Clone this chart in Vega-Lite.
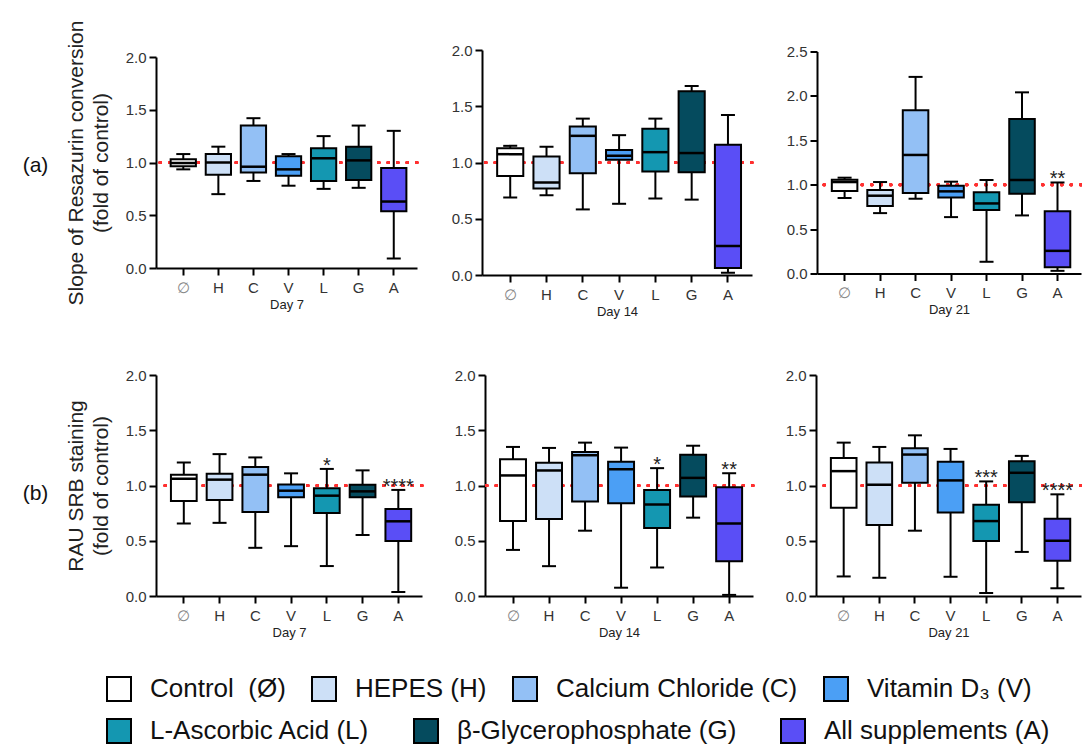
{
  "$schema": "https://vega.github.io/schema/vega-lite/v6.json",
  "padding": {"left": 22, "top": 20, "right": 0, "bottom": 0},
  "background": "white",
  "config": {
    "font": "Liberation Sans",
    "view": {"stroke": null},
    "axis": {"grid": false, "domainColor": "black", "domainWidth": 2, "tickColor": "black", "tickWidth": 2, "tickSize": 7, "labelFontSize": 15, "labelColor": "#333", "titleFontWeight": "normal", "titleColor": "#222"},
    "axisX": {"labelAngle": 0, "titleFontSize": 13, "titlePadding": 3, "labelPadding": 5},
    "axisY": {"titleFontSize": 21, "labelPadding": 3, "titlePadding": 14, "titleLineHeight": 25}
  },
  "datasets": {
    "box": [
      {"p": 1, "g": "∅", "grp": "Control\u00a0 (Ø)", "lo": 0.935, "q1": 0.965, "med": 0.995, "q3": 1.03, "hi": 1.08, "sig": ""},
      {"p": 1, "g": "H", "grp": "HEPES (H)", "lo": 0.70, "q1": 0.885, "med": 1.0, "q3": 1.08, "hi": 1.15, "sig": ""},
      {"p": 1, "g": "C", "grp": "Calcium Chloride (C)", "lo": 0.825, "q1": 0.905, "med": 0.96, "q3": 1.35, "hi": 1.42, "sig": ""},
      {"p": 1, "g": "V", "grp": "Vitamin D₃ (V)", "lo": 0.78, "q1": 0.875, "med": 0.935, "q3": 1.06, "hi": 1.08, "sig": ""},
      {"p": 1, "g": "L", "grp": "L-Ascorbic Acid (L)", "lo": 0.75, "q1": 0.825, "med": 1.04, "q3": 1.135, "hi": 1.25, "sig": ""},
      {"p": 1, "g": "G", "grp": "β-Glycerophosphate (G)", "lo": 0.76, "q1": 0.835, "med": 1.02, "q3": 1.15, "hi": 1.35, "sig": ""},
      {"p": 1, "g": "A", "grp": "All supplements (A)", "lo": 0.09, "q1": 0.537, "med": 0.63, "q3": 0.948, "hi": 1.30, "sig": ""},
      {"p": 2, "g": "∅", "grp": "Control\u00a0 (Ø)", "lo": 0.689, "q1": 0.879, "med": 1.074, "q3": 1.127, "hi": 1.148, "sig": ""},
      {"p": 2, "g": "H", "grp": "HEPES (H)", "lo": 0.71, "q1": 0.769, "med": 0.822, "q3": 1.053, "hi": 1.139, "sig": ""},
      {"p": 2, "g": "C", "grp": "Calcium Chloride (C)", "lo": 0.583, "q1": 0.905, "med": 1.237, "q3": 1.32, "hi": 1.39, "sig": ""},
      {"p": 2, "g": "V", "grp": "Vitamin D₃ (V)", "lo": 0.633, "q1": 1.024, "med": 1.059, "q3": 1.112, "hi": 1.243, "sig": ""},
      {"p": 2, "g": "L", "grp": "L-Ascorbic Acid (L)", "lo": 0.68, "q1": 0.92, "med": 1.092, "q3": 1.30, "hi": 1.39, "sig": ""},
      {"p": 2, "g": "G", "grp": "β-Glycerophosphate (G)", "lo": 0.67, "q1": 0.913, "med": 1.084, "q3": 1.633, "hi": 1.68, "sig": ""},
      {"p": 2, "g": "A", "grp": "All supplements (A)", "lo": 0.02, "q1": 0.062, "med": 0.258, "q3": 1.158, "hi": 1.422, "sig": ""},
      {"p": 3, "g": "∅", "grp": "Control\u00a0 (Ø)", "lo": 0.85, "q1": 0.929, "med": 1.03, "q3": 1.056, "hi": 1.079, "sig": ""},
      {"p": 3, "g": "H", "grp": "HEPES (H)", "lo": 0.68, "q1": 0.76, "med": 0.876, "q3": 0.94, "hi": 1.03, "sig": ""},
      {"p": 3, "g": "C", "grp": "Calcium Chloride (C)", "lo": 0.842, "q1": 0.906, "med": 1.335, "q3": 1.838, "hi": 2.214, "sig": ""},
      {"p": 3, "g": "V", "grp": "Vitamin D₃ (V)", "lo": 0.635, "q1": 0.857, "med": 0.925, "q3": 0.989, "hi": 1.034, "sig": ""},
      {"p": 3, "g": "L", "grp": "L-Ascorbic Acid (L)", "lo": 0.132, "q1": 0.714, "med": 0.789, "q3": 0.914, "hi": 1.053, "sig": ""},
      {"p": 3, "g": "G", "grp": "β-Glycerophosphate (G)", "lo": 0.654, "q1": 0.898, "med": 1.053, "q3": 1.74, "hi": 2.04, "sig": ""},
      {"p": 3, "g": "A", "grp": "All supplements (A)", "lo": 0.03, "q1": 0.07, "med": 0.255, "q3": 0.70, "hi": 1.025, "sig": "**"},
      {"p": 4, "g": "∅", "grp": "Control\u00a0 (Ø)", "lo": 0.656, "q1": 0.86, "med": 1.062, "q3": 1.098, "hi": 1.209, "sig": ""},
      {"p": 4, "g": "H", "grp": "HEPES (H)", "lo": 0.662, "q1": 0.869, "med": 1.053, "q3": 1.107, "hi": 1.284, "sig": ""},
      {"p": 4, "g": "C", "grp": "Calcium Chloride (C)", "lo": 0.436, "q1": 0.761, "med": 1.098, "q3": 1.167, "hi": 1.254, "sig": ""},
      {"p": 4, "g": "V", "grp": "Vitamin D₃ (V)", "lo": 0.451, "q1": 0.893, "med": 0.953, "q3": 1.01, "hi": 1.11, "sig": ""},
      {"p": 4, "g": "L", "grp": "L-Ascorbic Acid (L)", "lo": 0.271, "q1": 0.752, "med": 0.908, "q3": 0.974, "hi": 1.15, "sig": "*"},
      {"p": 4, "g": "G", "grp": "β-Glycerophosphate (G)", "lo": 0.552, "q1": 0.893, "med": 0.947, "q3": 1.007, "hi": 1.137, "sig": ""},
      {"p": 4, "g": "A", "grp": "All supplements (A)", "lo": 0.036, "q1": 0.497, "med": 0.676, "q3": 0.787, "hi": 0.96, "sig": "****"},
      {"p": 5, "g": "∅", "grp": "Control\u00a0 (Ø)", "lo": 0.417, "q1": 0.678, "med": 1.091, "q3": 1.238, "hi": 1.349, "sig": ""},
      {"p": 5, "g": "H", "grp": "HEPES (H)", "lo": 0.27, "q1": 0.696, "med": 1.136, "q3": 1.205, "hi": 1.34, "sig": ""},
      {"p": 5, "g": "C", "grp": "Calcium Chloride (C)", "lo": 0.591, "q1": 0.855, "med": 1.274, "q3": 1.304, "hi": 1.388, "sig": ""},
      {"p": 5, "g": "V", "grp": "Vitamin D₃ (V)", "lo": 0.075, "q1": 0.84, "med": 1.148, "q3": 1.214, "hi": 1.343, "sig": ""},
      {"p": 5, "g": "L", "grp": "L-Ascorbic Acid (L)", "lo": 0.258, "q1": 0.615, "med": 0.828, "q3": 0.96, "hi": 1.157, "sig": "*"},
      {"p": 5, "g": "G", "grp": "β-Glycerophosphate (G)", "lo": 0.709, "q1": 0.90, "med": 1.069, "q3": 1.279, "hi": 1.36, "sig": ""},
      {"p": 5, "g": "A", "grp": "All supplements (A)", "lo": 0.01, "q1": 0.315, "med": 0.655, "q3": 0.985, "hi": 1.111, "sig": "**"},
      {"p": 6, "g": "∅", "grp": "Control\u00a0 (Ø)", "lo": 0.177, "q1": 0.798, "med": 1.13, "q3": 1.25, "hi": 1.388, "sig": ""},
      {"p": 6, "g": "H", "grp": "HEPES (H)", "lo": 0.165, "q1": 0.642, "med": 1.007, "q3": 1.208, "hi": 1.349, "sig": ""},
      {"p": 6, "g": "C", "grp": "Calcium Chloride (C)", "lo": 0.591, "q1": 1.025, "med": 1.28, "q3": 1.337, "hi": 1.454, "sig": ""},
      {"p": 6, "g": "V", "grp": "Vitamin D₃ (V)", "lo": 0.174, "q1": 0.756, "med": 1.046, "q3": 1.214, "hi": 1.331, "sig": ""},
      {"p": 6, "g": "L", "grp": "L-Ascorbic Acid (L)", "lo": 0.027, "q1": 0.498, "med": 0.678, "q3": 0.825, "hi": 1.037, "sig": "***"},
      {"p": 6, "g": "G", "grp": "β-Glycerophosphate (G)", "lo": 0.399, "q1": 0.849, "med": 1.115, "q3": 1.22, "hi": 1.268, "sig": ""},
      {"p": 6, "g": "A", "grp": "All supplements (A)", "lo": 0.07, "q1": 0.32, "med": 0.50, "q3": 0.70, "hi": 0.92, "sig": "****"}
    ]
  },
  "vconcat": [
    {
      "title": {"text": "(a)", "orient": "left", "angle": 0, "anchor": "middle", "fontSize": 21, "fontWeight": "normal", "offset": 4, "dy": -14, "color": "#111"},
      "spacing": 32,
      "center": true,
      "hconcat": [
        {
          "width": 261, "height": 211,
          "data": {"name": "box"},
          "transform": [{"filter": "datum.p == 1"}],
          "layer": [
            {"mark": {"type": "rule", "color": "#ff3030", "strokeDash": [0.5, 9], "strokeWidth": 3, "strokeCap": "round"}, "encoding": {"y": {"datum": 1, "type": "quantitative"}}},
            {"mark": {"type": "rule", "color": "black", "strokeWidth": 2}, "encoding": {
              "x": {"field": "g", "type": "nominal", "sort": ["∅", "H", "C", "V", "L", "G", "A"], "scale": {"paddingInner": 0.28, "paddingOuter": 0.36, "align": 0.58}, "axis": {"title": "Day 7", "labelColor": {"condition": {"test": "datum.value === '∅'", "value": "#888"}, "value": "#333"}}},
              "y": {"field": "lo", "type": "quantitative", "scale": {"domain": [0, 2], "nice": false}, "axis": {"values": [0, 0.5, 1, 1.5, 2], "format": ".1f", "title": ["Slope of Resazurin conversion", "(fold of control)"]}},
              "y2": {"field": "hi"}}},
            {"mark": {"type": "tick", "color": "black", "thickness": 2, "size": 14, "opacity": 1}, "encoding": {"x": {"field": "g", "type": "nominal", "sort": ["∅", "H", "C", "V", "L", "G", "A"]}, "y": {"field": "lo", "type": "quantitative"}}},
            {"mark": {"type": "tick", "color": "black", "thickness": 2, "size": 14, "opacity": 1}, "encoding": {"x": {"field": "g", "type": "nominal", "sort": ["∅", "H", "C", "V", "L", "G", "A"]}, "y": {"field": "hi", "type": "quantitative"}}},
            {"mark": {"type": "bar", "stroke": "black", "strokeWidth": 2}, "encoding": {"x": {"field": "g", "type": "nominal", "sort": ["∅", "H", "C", "V", "L", "G", "A"]}, "y": {"field": "q1", "type": "quantitative"}, "y2": {"field": "q3"},
              "fill": {"field": "grp", "type": "nominal", "scale": {"domain": ["Control\u00a0 (Ø)", "HEPES (H)", "Calcium Chloride (C)", "Vitamin D₃ (V)", "L-Ascorbic Acid (L)", "β-Glycerophosphate (G)", "All supplements (A)"], "range": ["#ffffff", "#cde0f7", "#93c0f5", "#4b9ff5", "#1497b1", "#054b5e", "#5a4ef6"]},
                "legend": {"orient": "none", "legendX": -50, "legendY": 626, "direction": "horizontal", "values": ["Control\u00a0 (Ø)", "HEPES (H)", "Calcium Chloride (C)", "Vitamin D₃ (V)"], "title": null, "symbolType": "square", "symbolSize": 576, "symbolStrokeColor": "black", "symbolStrokeWidth": 2, "symbolOpacity": 1, "labelFontSize": 26, "labelColor": "#111", "labelFont": "Liberation Sans", "columnPadding": 22, "labelOffset": 18, "labelLimit": 400}}}},
            {"mark": {"type": "tick", "color": "black", "thickness": 2.5, "size": 25, "opacity": 1}, "encoding": {"x": {"field": "g", "type": "nominal", "sort": ["∅", "H", "C", "V", "L", "G", "A"]}, "y": {"field": "med", "type": "quantitative"}}},
            {"mark": {"type": "text", "fontSize": 20, "baseline": "alphabetic", "dy": 3, "color": "#222"}, "encoding": {"x": {"field": "g", "type": "nominal", "sort": ["∅", "H", "C", "V", "L", "G", "A"]}, "y": {"field": "hi", "type": "quantitative"}, "text": {"field": "sig"}}}
          ]
        },
        {
          "width": 270, "height": 225,
          "data": {"name": "box"},
          "transform": [{"filter": "datum.p == 2"}],
          "layer": [
            {"mark": {"type": "rule", "color": "#ff3030", "strokeDash": [0.5, 9], "strokeWidth": 3, "strokeCap": "round"}, "encoding": {"y": {"datum": 1, "type": "quantitative"}}},
            {"mark": {"type": "rule", "color": "black", "strokeWidth": 2}, "encoding": {
              "x": {"field": "g", "type": "nominal", "sort": ["∅", "H", "C", "V", "L", "G", "A"], "scale": {"paddingInner": 0.28, "paddingOuter": 0.36, "align": 0.58}, "axis": {"title": "Day 14", "labelColor": {"condition": {"test": "datum.value === '∅'", "value": "#888"}, "value": "#333"}}},
              "y": {"field": "lo", "type": "quantitative", "scale": {"domain": [0, 2], "nice": false}, "axis": {"values": [0, 0.5, 1, 1.5, 2], "format": ".1f", "title": null}},
              "y2": {"field": "hi"}}},
            {"mark": {"type": "tick", "color": "black", "thickness": 2, "size": 14, "opacity": 1}, "encoding": {"x": {"field": "g", "type": "nominal", "sort": ["∅", "H", "C", "V", "L", "G", "A"]}, "y": {"field": "lo", "type": "quantitative"}}},
            {"mark": {"type": "tick", "color": "black", "thickness": 2, "size": 14, "opacity": 1}, "encoding": {"x": {"field": "g", "type": "nominal", "sort": ["∅", "H", "C", "V", "L", "G", "A"]}, "y": {"field": "hi", "type": "quantitative"}}},
            {"mark": {"type": "bar", "stroke": "black", "strokeWidth": 2}, "encoding": {"x": {"field": "g", "type": "nominal", "sort": ["∅", "H", "C", "V", "L", "G", "A"]}, "y": {"field": "q1", "type": "quantitative"}, "y2": {"field": "q3"},
              "fill": {"field": "grp", "type": "nominal", "scale": {"domain": ["Control\u00a0 (Ø)", "HEPES (H)", "Calcium Chloride (C)", "Vitamin D₃ (V)", "L-Ascorbic Acid (L)", "β-Glycerophosphate (G)", "All supplements (A)"], "range": ["#ffffff", "#cde0f7", "#93c0f5", "#4b9ff5", "#1497b1", "#054b5e", "#5a4ef6"]}}}},
            {"mark": {"type": "tick", "color": "black", "thickness": 2.5, "size": 25, "opacity": 1}, "encoding": {"x": {"field": "g", "type": "nominal", "sort": ["∅", "H", "C", "V", "L", "G", "A"]}, "y": {"field": "med", "type": "quantitative"}}},
            {"mark": {"type": "text", "fontSize": 20, "baseline": "alphabetic", "dy": 3, "color": "#222"}, "encoding": {"x": {"field": "g", "type": "nominal", "sort": ["∅", "H", "C", "V", "L", "G", "A"]}, "y": {"field": "hi", "type": "quantitative"}, "text": {"field": "sig"}}}
          ]
        },
        {
          "width": 264, "height": 222,
          "data": {"name": "box"},
          "transform": [{"filter": "datum.p == 3"}],
          "layer": [
            {"mark": {"type": "rule", "color": "#ff3030", "strokeDash": [0.5, 9], "strokeWidth": 3, "strokeCap": "round"}, "encoding": {"y": {"datum": 1, "type": "quantitative"}}},
            {"mark": {"type": "rule", "color": "black", "strokeWidth": 2}, "encoding": {
              "x": {"field": "g", "type": "nominal", "sort": ["∅", "H", "C", "V", "L", "G", "A"], "scale": {"paddingInner": 0.28, "paddingOuter": 0.36, "align": 0.58}, "axis": {"title": "Day 21", "labelColor": {"condition": {"test": "datum.value === '∅'", "value": "#888"}, "value": "#333"}}},
              "y": {"field": "lo", "type": "quantitative", "scale": {"domain": [0, 2.5], "nice": false}, "axis": {"values": [0, 0.5, 1, 1.5, 2, 2.5], "format": ".1f", "title": null}},
              "y2": {"field": "hi"}}},
            {"mark": {"type": "tick", "color": "black", "thickness": 2, "size": 14, "opacity": 1}, "encoding": {"x": {"field": "g", "type": "nominal", "sort": ["∅", "H", "C", "V", "L", "G", "A"]}, "y": {"field": "lo", "type": "quantitative"}}},
            {"mark": {"type": "tick", "color": "black", "thickness": 2, "size": 14, "opacity": 1}, "encoding": {"x": {"field": "g", "type": "nominal", "sort": ["∅", "H", "C", "V", "L", "G", "A"]}, "y": {"field": "hi", "type": "quantitative"}}},
            {"mark": {"type": "bar", "stroke": "black", "strokeWidth": 2}, "encoding": {"x": {"field": "g", "type": "nominal", "sort": ["∅", "H", "C", "V", "L", "G", "A"]}, "y": {"field": "q1", "type": "quantitative"}, "y2": {"field": "q3"},
              "fill": {"field": "grp", "type": "nominal", "scale": {"domain": ["Control\u00a0 (Ø)", "HEPES (H)", "Calcium Chloride (C)", "Vitamin D₃ (V)", "L-Ascorbic Acid (L)", "β-Glycerophosphate (G)", "All supplements (A)"], "range": ["#ffffff", "#cde0f7", "#93c0f5", "#4b9ff5", "#1497b1", "#054b5e", "#5a4ef6"]}}}},
            {"mark": {"type": "tick", "color": "black", "thickness": 2.5, "size": 25, "opacity": 1}, "encoding": {"x": {"field": "g", "type": "nominal", "sort": ["∅", "H", "C", "V", "L", "G", "A"]}, "y": {"field": "med", "type": "quantitative"}}},
            {"mark": {"type": "text", "fontSize": 20, "baseline": "alphabetic", "dy": 3, "color": "#222"}, "encoding": {"x": {"field": "g", "type": "nominal", "sort": ["∅", "H", "C", "V", "L", "G", "A"]}, "y": {"field": "hi", "type": "quantitative"}, "text": {"field": "sig"}}}
          ]
        }
      ]
    },
    {
      "title": {"text": "(b)", "orient": "left", "angle": 0, "anchor": "middle", "fontSize": 21, "fontWeight": "normal", "offset": 4, "dy": -21, "color": "#111"},
      "spacing": 30,
      "hconcat": [
        {
          "width": 266, "height": 221,
          "data": {"name": "box"},
          "transform": [{"filter": "datum.p == 4"}],
          "layer": [
            {"mark": {"type": "rule", "color": "#ff3030", "strokeDash": [0.5, 9], "strokeWidth": 3, "strokeCap": "round"}, "encoding": {"y": {"datum": 1, "type": "quantitative"}}},
            {"mark": {"type": "rule", "color": "black", "strokeWidth": 2}, "encoding": {
              "x": {"field": "g", "type": "nominal", "sort": ["∅", "H", "C", "V", "L", "G", "A"], "scale": {"paddingInner": 0.28, "paddingOuter": 0.36, "align": 0.58}, "axis": {"title": "Day 7", "labelColor": {"condition": {"test": "datum.value === '∅'", "value": "#888"}, "value": "#333"}}},
              "y": {"field": "lo", "type": "quantitative", "scale": {"domain": [0, 2], "nice": false}, "axis": {"values": [0, 0.5, 1, 1.5, 2], "format": ".1f", "title": ["RAU SRB staining", "(fold of control)"]}},
              "y2": {"field": "hi"}}},
            {"mark": {"type": "bar", "opacity": 0, "stroke": "black", "strokeWidth": 2}, "encoding": {"x": {"field": "g", "type": "nominal", "sort": ["∅", "H", "C", "V", "L", "G", "A"]}, "y": {"field": "med", "type": "quantitative"},
              "color": {"field": "grp", "type": "nominal", "scale": {"domain": ["L-Ascorbic Acid (L)", "β-Glycerophosphate (G)", "All supplements (A)"], "range": ["#1497b1", "#054b5e", "#5a4ef6"]},
                "legend": {"orient": "none", "legendX": -50, "legendY": 668, "direction": "horizontal", "title": null, "symbolType": "square", "symbolSize": 576, "symbolStrokeColor": "black", "symbolStrokeWidth": 2, "symbolOpacity": 1, "labelFontSize": 26, "labelColor": "#111", "labelFont": "Liberation Sans", "columnPadding": 40, "labelOffset": 18, "labelLimit": 400}}}},
            {"mark": {"type": "tick", "color": "black", "thickness": 2, "size": 14, "opacity": 1}, "encoding": {"x": {"field": "g", "type": "nominal", "sort": ["∅", "H", "C", "V", "L", "G", "A"]}, "y": {"field": "lo", "type": "quantitative"}}},
            {"mark": {"type": "tick", "color": "black", "thickness": 2, "size": 14, "opacity": 1}, "encoding": {"x": {"field": "g", "type": "nominal", "sort": ["∅", "H", "C", "V", "L", "G", "A"]}, "y": {"field": "hi", "type": "quantitative"}}},
            {"mark": {"type": "bar", "stroke": "black", "strokeWidth": 2}, "encoding": {"x": {"field": "g", "type": "nominal", "sort": ["∅", "H", "C", "V", "L", "G", "A"]}, "y": {"field": "q1", "type": "quantitative"}, "y2": {"field": "q3"},
              "fill": {"field": "grp", "type": "nominal", "scale": {"domain": ["Control\u00a0 (Ø)", "HEPES (H)", "Calcium Chloride (C)", "Vitamin D₃ (V)", "L-Ascorbic Acid (L)", "β-Glycerophosphate (G)", "All supplements (A)"], "range": ["#ffffff", "#cde0f7", "#93c0f5", "#4b9ff5", "#1497b1", "#054b5e", "#5a4ef6"]}}}},
            {"mark": {"type": "tick", "color": "black", "thickness": 2.5, "size": 25, "opacity": 1}, "encoding": {"x": {"field": "g", "type": "nominal", "sort": ["∅", "H", "C", "V", "L", "G", "A"]}, "y": {"field": "med", "type": "quantitative"}}},
            {"mark": {"type": "text", "fontSize": 20, "baseline": "alphabetic", "dy": 3, "color": "#222"}, "encoding": {"x": {"field": "g", "type": "nominal", "sort": ["∅", "H", "C", "V", "L", "G", "A"]}, "y": {"field": "hi", "type": "quantitative"}, "text": {"field": "sig"}}}
          ]
        },
        {
          "width": 268, "height": 221,
          "data": {"name": "box"},
          "transform": [{"filter": "datum.p == 5"}],
          "layer": [
            {"mark": {"type": "rule", "color": "#ff3030", "strokeDash": [0.5, 9], "strokeWidth": 3, "strokeCap": "round"}, "encoding": {"y": {"datum": 1, "type": "quantitative"}}},
            {"mark": {"type": "rule", "color": "black", "strokeWidth": 2}, "encoding": {
              "x": {"field": "g", "type": "nominal", "sort": ["∅", "H", "C", "V", "L", "G", "A"], "scale": {"paddingInner": 0.28, "paddingOuter": 0.36, "align": 0.58}, "axis": {"title": "Day 14", "labelColor": {"condition": {"test": "datum.value === '∅'", "value": "#888"}, "value": "#333"}}},
              "y": {"field": "lo", "type": "quantitative", "scale": {"domain": [0, 2], "nice": false}, "axis": {"values": [0, 0.5, 1, 1.5, 2], "format": ".1f", "title": null}},
              "y2": {"field": "hi"}}},
            {"mark": {"type": "tick", "color": "black", "thickness": 2, "size": 14, "opacity": 1}, "encoding": {"x": {"field": "g", "type": "nominal", "sort": ["∅", "H", "C", "V", "L", "G", "A"]}, "y": {"field": "lo", "type": "quantitative"}}},
            {"mark": {"type": "tick", "color": "black", "thickness": 2, "size": 14, "opacity": 1}, "encoding": {"x": {"field": "g", "type": "nominal", "sort": ["∅", "H", "C", "V", "L", "G", "A"]}, "y": {"field": "hi", "type": "quantitative"}}},
            {"mark": {"type": "bar", "stroke": "black", "strokeWidth": 2}, "encoding": {"x": {"field": "g", "type": "nominal", "sort": ["∅", "H", "C", "V", "L", "G", "A"]}, "y": {"field": "q1", "type": "quantitative"}, "y2": {"field": "q3"},
              "fill": {"field": "grp", "type": "nominal", "scale": {"domain": ["Control\u00a0 (Ø)", "HEPES (H)", "Calcium Chloride (C)", "Vitamin D₃ (V)", "L-Ascorbic Acid (L)", "β-Glycerophosphate (G)", "All supplements (A)"], "range": ["#ffffff", "#cde0f7", "#93c0f5", "#4b9ff5", "#1497b1", "#054b5e", "#5a4ef6"]}}}},
            {"mark": {"type": "tick", "color": "black", "thickness": 2.5, "size": 25, "opacity": 1}, "encoding": {"x": {"field": "g", "type": "nominal", "sort": ["∅", "H", "C", "V", "L", "G", "A"]}, "y": {"field": "med", "type": "quantitative"}}},
            {"mark": {"type": "text", "fontSize": 20, "baseline": "alphabetic", "dy": 3, "color": "#222"}, "encoding": {"x": {"field": "g", "type": "nominal", "sort": ["∅", "H", "C", "V", "L", "G", "A"]}, "y": {"field": "hi", "type": "quantitative"}, "text": {"field": "sig"}}}
          ]
        },
        {
          "width": 265, "height": 221,
          "data": {"name": "box"},
          "transform": [{"filter": "datum.p == 6"}],
          "layer": [
            {"mark": {"type": "rule", "color": "#ff3030", "strokeDash": [0.5, 9], "strokeWidth": 3, "strokeCap": "round"}, "encoding": {"y": {"datum": 1, "type": "quantitative"}}},
            {"mark": {"type": "rule", "color": "black", "strokeWidth": 2}, "encoding": {
              "x": {"field": "g", "type": "nominal", "sort": ["∅", "H", "C", "V", "L", "G", "A"], "scale": {"paddingInner": 0.28, "paddingOuter": 0.36, "align": 0.58}, "axis": {"title": "Day 21", "labelColor": {"condition": {"test": "datum.value === '∅'", "value": "#888"}, "value": "#333"}}},
              "y": {"field": "lo", "type": "quantitative", "scale": {"domain": [0, 2], "nice": false}, "axis": {"values": [0, 0.5, 1, 1.5, 2], "format": ".1f", "title": null}},
              "y2": {"field": "hi"}}},
            {"mark": {"type": "tick", "color": "black", "thickness": 2, "size": 14, "opacity": 1}, "encoding": {"x": {"field": "g", "type": "nominal", "sort": ["∅", "H", "C", "V", "L", "G", "A"]}, "y": {"field": "lo", "type": "quantitative"}}},
            {"mark": {"type": "tick", "color": "black", "thickness": 2, "size": 14, "opacity": 1}, "encoding": {"x": {"field": "g", "type": "nominal", "sort": ["∅", "H", "C", "V", "L", "G", "A"]}, "y": {"field": "hi", "type": "quantitative"}}},
            {"mark": {"type": "bar", "stroke": "black", "strokeWidth": 2}, "encoding": {"x": {"field": "g", "type": "nominal", "sort": ["∅", "H", "C", "V", "L", "G", "A"]}, "y": {"field": "q1", "type": "quantitative"}, "y2": {"field": "q3"},
              "fill": {"field": "grp", "type": "nominal", "scale": {"domain": ["Control\u00a0 (Ø)", "HEPES (H)", "Calcium Chloride (C)", "Vitamin D₃ (V)", "L-Ascorbic Acid (L)", "β-Glycerophosphate (G)", "All supplements (A)"], "range": ["#ffffff", "#cde0f7", "#93c0f5", "#4b9ff5", "#1497b1", "#054b5e", "#5a4ef6"]}}}},
            {"mark": {"type": "tick", "color": "black", "thickness": 2.5, "size": 25, "opacity": 1}, "encoding": {"x": {"field": "g", "type": "nominal", "sort": ["∅", "H", "C", "V", "L", "G", "A"]}, "y": {"field": "med", "type": "quantitative"}}},
            {"mark": {"type": "text", "fontSize": 20, "baseline": "alphabetic", "dy": 3, "color": "#222"}, "encoding": {"x": {"field": "g", "type": "nominal", "sort": ["∅", "H", "C", "V", "L", "G", "A"]}, "y": {"field": "hi", "type": "quantitative"}, "text": {"field": "sig"}}}
          ]
        }
      ]
    }
  ],
  "spacing": 50,
  "resolve": {"scale": {"fill": "shared", "color": "shared"}}
}
